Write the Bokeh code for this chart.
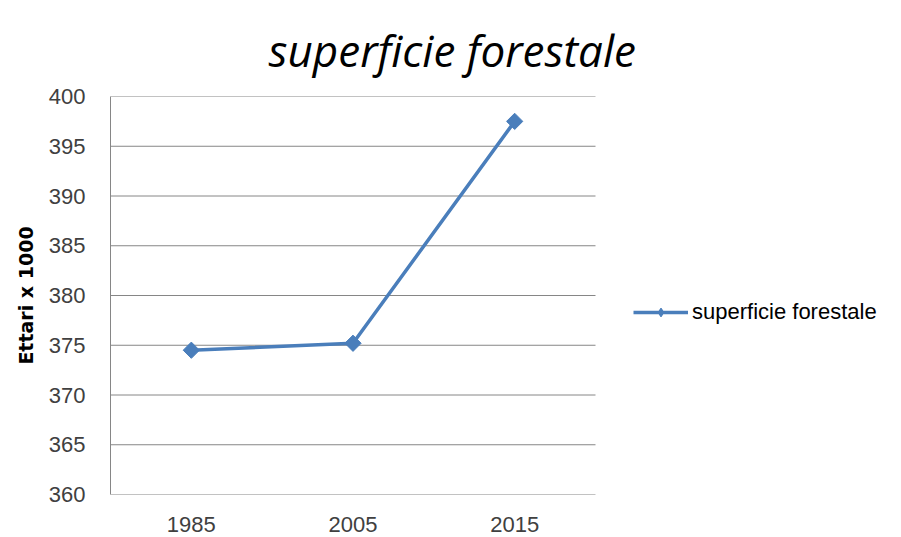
import numpy as np
from bokeh.plotting import figure
from bokeh.models import Range1d, FixedTicker, Legend, LegendItem, ColumnDataSource
from bokeh.embed import file_html
from bokeh.resources import INLINE

years = ["1985", "2005", "2015"]
values = [374.5, 375.2, 397.5]
series_name = "superficie forestale"
title_text = "superficie forestale"
y_label = "Ettari x 1000"
y_ticks = [360, 365, 370, 375, 380, 385, 390, 395, 400]

# category slots: each year sits in the middle of its own unit-wide slot
x_pos = [i + 0.5 for i in range(len(years))]
n_slots = len(years)

src = ColumnDataSource(data=dict(x=x_pos, y=values))
grid_src = ColumnDataSource(data=dict(x0=[0] * len(y_ticks), x1=[n_slots] * len(y_ticks),
                                      y=y_ticks))

p = figure(width=901, height=537, x_range=Range1d(0, n_slots * 791 / 485),
           y_range=Range1d(360, 400),
           output_backend="svg", toolbar_location=None,
           min_border_left=110, min_border_right=0, min_border_top=96, min_border_bottom=43)
p.outline_line_color = None

p.title.text = title_text
p.title.text_font = "Open Sans"
p.title.text_font_style = "italic"
p.title.text_font_size = "44px"
p.title.text_color = "#000000"
p.title.align = "left"
p.title.offset = 158
p.title.vertical_align = "top"
p.title.standoff = 30

# horizontal grid lines limited to the category slots (the 360 line is the x axis line)
p.segment(x0="x0", x1="x1", y0="y", y1="y", source=grid_src, line_color="#868686", line_width=1)

col = "#4A7EBB"
ln = p.line("x", "y", source=src, line_color=col, line_width=3.5)
mk = p.scatter("x", "y", source=src, marker="square", size=11.5, angle=np.pi / 4,
               fill_color=col, line_color=col)
# marker used only for the legend swatch (its point lies outside the visible range)
leg_mk = p.scatter(x=[x_pos[0]], y=[300], marker="diamond", size=16, fill_color=col, line_color=col)

p.yaxis.ticker = FixedTicker(ticks=y_ticks)
p.xaxis.ticker = FixedTicker(ticks=x_pos)
p.xaxis.major_label_overrides = {xp: yr for xp, yr in zip(x_pos, years)}
p.yaxis.axis_label = y_label
p.yaxis.axis_label_text_font = "DejaVu Sans"
p.yaxis.axis_label_text_font_style = "bold"
p.yaxis.axis_label_text_font_size = "19px"
p.yaxis.axis_label_text_color = "#000000"
p.yaxis.axis_label_standoff = 9
for ax in (p.xaxis, p.yaxis):
    ax.major_label_text_font = "Liberation Sans"
    ax.major_label_text_font_size = "22px"
    ax.major_label_text_color = "#404040"
    ax.major_tick_line_color = None
    ax.minor_tick_line_color = None
p.yaxis.axis_line_color = "#868686"
p.xaxis.axis_line_color = None
p.yaxis.major_label_standoff = 19
p.xaxis.major_label_standoff = 16

p.xgrid.grid_line_color = None
p.ygrid.grid_line_color = None

legend = Legend(items=[LegendItem(label=series_name, renderers=[ln, leg_mk])],
                location=(523, 169), border_line_color=None, background_fill_alpha=0,
                padding=0, margin=0, glyph_width=55, glyph_height=22, label_standoff=4,
                label_text_font="Liberation Sans", label_text_font_size="22px",
                label_text_color="#000000")
p.add_layout(legend, "center")

open("out.html", "w").write(file_html(p, INLINE))
